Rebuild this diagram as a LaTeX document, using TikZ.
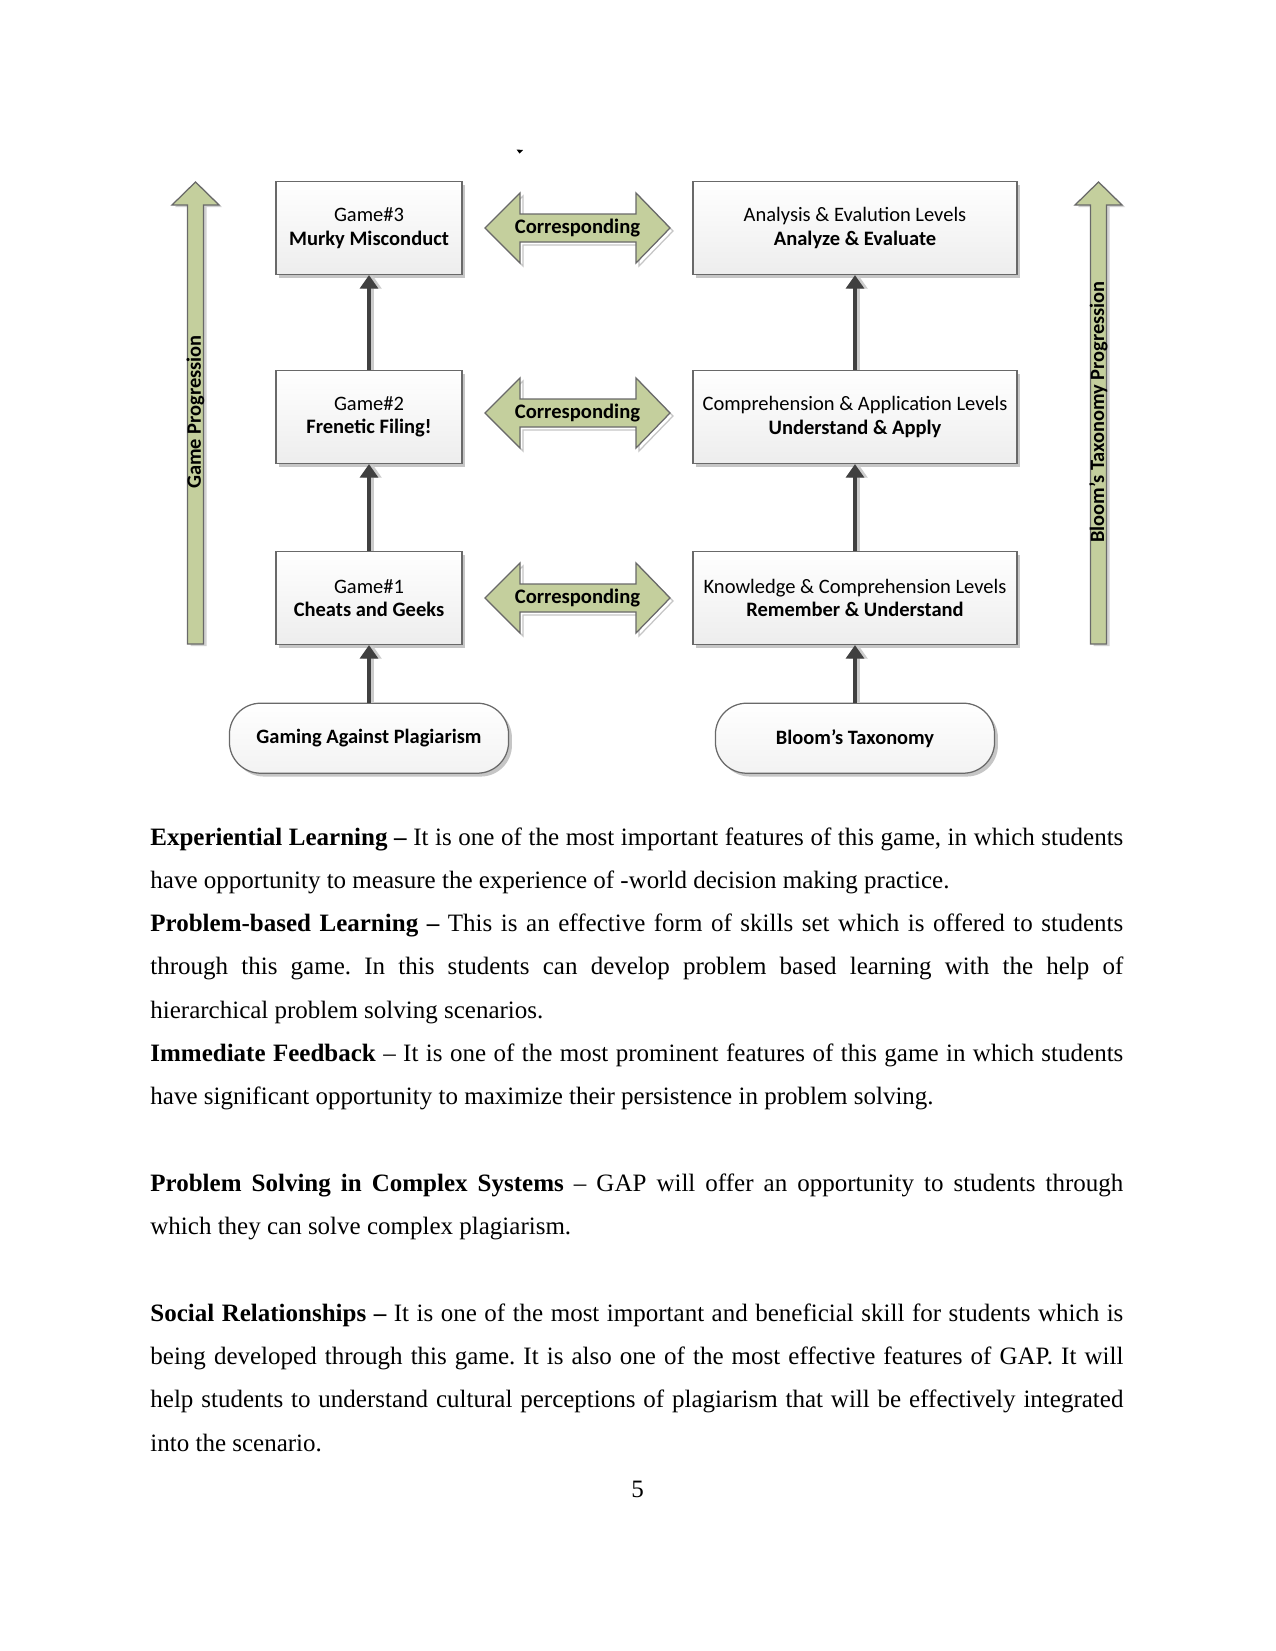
\documentclass[tikz,border=0pt]{standalone}
\usepackage{fontspec}
\setmainfont{Liberation Serif}
\newfontfamily\diagfont{Carlito}
\usetikzlibrary{arrows.meta,positioning,shadows}
\definecolor{progGreen}{RGB}{196,207,157}
\definecolor{edgeGray}{RGB}{105,105,105}
\definecolor{arrGray}{RGB}{64,64,64}
\frenchspacing
\tikzset{
  lvlbox/.style={draw=edgeGray,line width=0.6bp,top color=white,bottom color=gray!14,minimum height=44.6bp,align=center,inner sep=2bp,
    font=\diagfont\fontsize{9.85bp}{11.3bp}\selectfont,drop shadow={shadow xshift=1.6bp,shadow yshift=-1.6bp,fill=gray!45,opacity=1}},
  gamebox/.style={lvlbox,minimum width=89.3bp},
  bloombox/.style={lvlbox,minimum width=155.5bp},
  pillbox/.style={draw=edgeGray,line width=0.6bp,rounded corners=15bp,top color=white,bottom color=gray!10,minimum width=134bp,minimum height=33.6bp,
    font=\diagfont\bfseries\fontsize{9.8bp}{11.3bp}\selectfont,drop shadow={shadow xshift=1.6bp,shadow yshift=-1.6bp,fill=gray!45,opacity=1}},
  uparr/.style={-{Triangle[width=8.6bp,length=6.5bp]},arrGray,line width=1.9bp},
  shdarr/.style={-{Triangle[width=8.6bp,length=6.5bp]},gray!40,line width=1.9bp},
  greenarr/.style={fill=progGreen,draw=edgeGray,line width=0.6bp},
  greenshd/.style={fill=gray!35},
  corrtxt/.style={font=\diagfont\bfseries\fontsize{9.9bp}{11.5bp}\selectfont,inner sep=0pt},
  progtxt/.style={font=\diagfont\bfseries\fontsize{9.8bp}{11bp}\selectfont,inner sep=0pt,rotate=90},
  bodytxt/.style={text width=467bp,align=justify,inner sep=0pt,font=\fontsize{12bp}{20.78bp}\selectfont}
}
\begin{document}
\begin{tikzpicture}[x=0.48bp,y=-0.48bp]
  \fill[white] (0,0) rectangle (1275,1651);
  \useasboundingbox (0,0) rectangle (1275,1651);

  % stray mark above the figure
  \fill (516.5,149.5) -- (523,150) -- (519.5,153.5) -- cycle;

  % Progression arrows (left and right)
  \foreach \x/\n/\t in {195.5/gprog/Game Progression, 1098.5/bprog/Bloom’s Taxonomy Progression} {
    \fill[greenshd, shift={(3,2)}] (\x,182) -- ({\x+23.5},205) -- ({\x+8},205) -- ({\x+8},644) -- ({\x-8},644) -- ({\x-8},205) -- ({\x-23.5},205) -- cycle;
    \draw[greenarr] (\x,182) -- ({\x+23.5},205) -- ({\x+8},205) -- ({\x+8},644) -- ({\x-8},644) -- ({\x-8},205) -- ({\x-23.5},205) -- cycle;
    \node[progtxt] (\n) at (\x,412) {\t};
  }

  % Game boxes
  \node[gamebox] (g3) at (369,228) {Game\#3\\\textbf{Murky Misconduct}};
  \node[gamebox] (g2) at (369,417) {Game\#2\\\textbf{Frenetic Filing!}};
  \node[gamebox] (g1) at (369,598) {Game\#1\\\textbf{Cheats and Geeks}};

  % Bloom levels
  \node[bloombox] (b3) at (855,228) {Analysis \& Evalution Levels\\\textbf{Analyze \& Evaluate}};
  \node[bloombox] (b2) at (855,417) {Comprehension \& Application Levels\\\textbf{Understand \& Apply}};
  \node[bloombox] (b1) at (855,598) {Knowledge \& Comprehension Levels\\\textbf{Remember \& Understand}};

  % Bases
  \node[pillbox, below=27.6bp of g1] (gap) {Gaming Against Plagiarism};
  \node[pillbox, below=27.6bp of b1] (bloom) {Bloom’s Taxonomy};

  % Corresponding double arrows
  \foreach \y/\n in {228/c3, 413/c2, 598/c1} {
    \draw[fill=white, draw=gray!45, line width=0.6bp, shift={(3,3)}] (485,\y) -- (520,{\y-35}) -- (520,{\y-14}) -- (636,{\y-14}) -- (636,{\y-35}) -- (670,\y) -- (636,{\y+35}) -- (636,{\y+14}) -- (520,{\y+14}) -- (520,{\y+35}) -- cycle;
    \draw[greenarr] (485,\y) -- (520,{\y-35}) -- (520,{\y-14}) -- (636,{\y-14}) -- (636,{\y-35}) -- (670,\y) -- (636,{\y+35}) -- (636,{\y+14}) -- (520,{\y+14}) -- (520,{\y+35}) -- cycle;
    \node[corrtxt] (\n) at (577.5,\y) {Corresponding};
  }

  % Upward connections
  \foreach \a/\b in {gap/g1, g1/g2, g2/g3, bloom/b1, b1/b2, b2/b3} {
    \draw[shdarr] ([xshift=1.6bp]\a.north) -- ([xshift=1.6bp]\b.south);
    \draw[uparr] (\a.north) -- (\b.south);
  }

  % Body text
  \node[bodytxt, anchor=base west] (body) at (150,845) {%
    \textbf{Experiential Learning --} It is one of the most important features of this game, in which students\linebreak
    have opportunity to measure the experience of -world decision making practice.\par
    \textbf{Problem-based Learning --} This is an effective form of skills set which is offered to students\linebreak
    through this game. In this students can develop problem based learning with the help of\linebreak
    hierarchical problem solving scenarios.\par
    \textbf{Immediate Feedback} -- It is one of the most prominent features of this game in which students\linebreak
    have significant opportunity to maximize their persistence in problem solving.\par
    \null\par
    \textbf{Problem Solving in Complex Systems} -- GAP will offer an opportunity to students through\linebreak
    which they can solve complex plagiarism.\par
    \null\par
    \textbf{Social Relationships --} It is one of the most important and beneficial skill for students which is\linebreak
    being developed through this game. It is also one of the most effective features of GAP. It will\linebreak
    help students to understand cultural perceptions of plagiarism that will be effectively integrated\linebreak
    into the scenario.};
  \node[font=\fontsize{12bp}{14bp}\selectfont, anchor=base] (pgnum) at (637.5,1497) {5};
\end{tikzpicture}
\end{document}
